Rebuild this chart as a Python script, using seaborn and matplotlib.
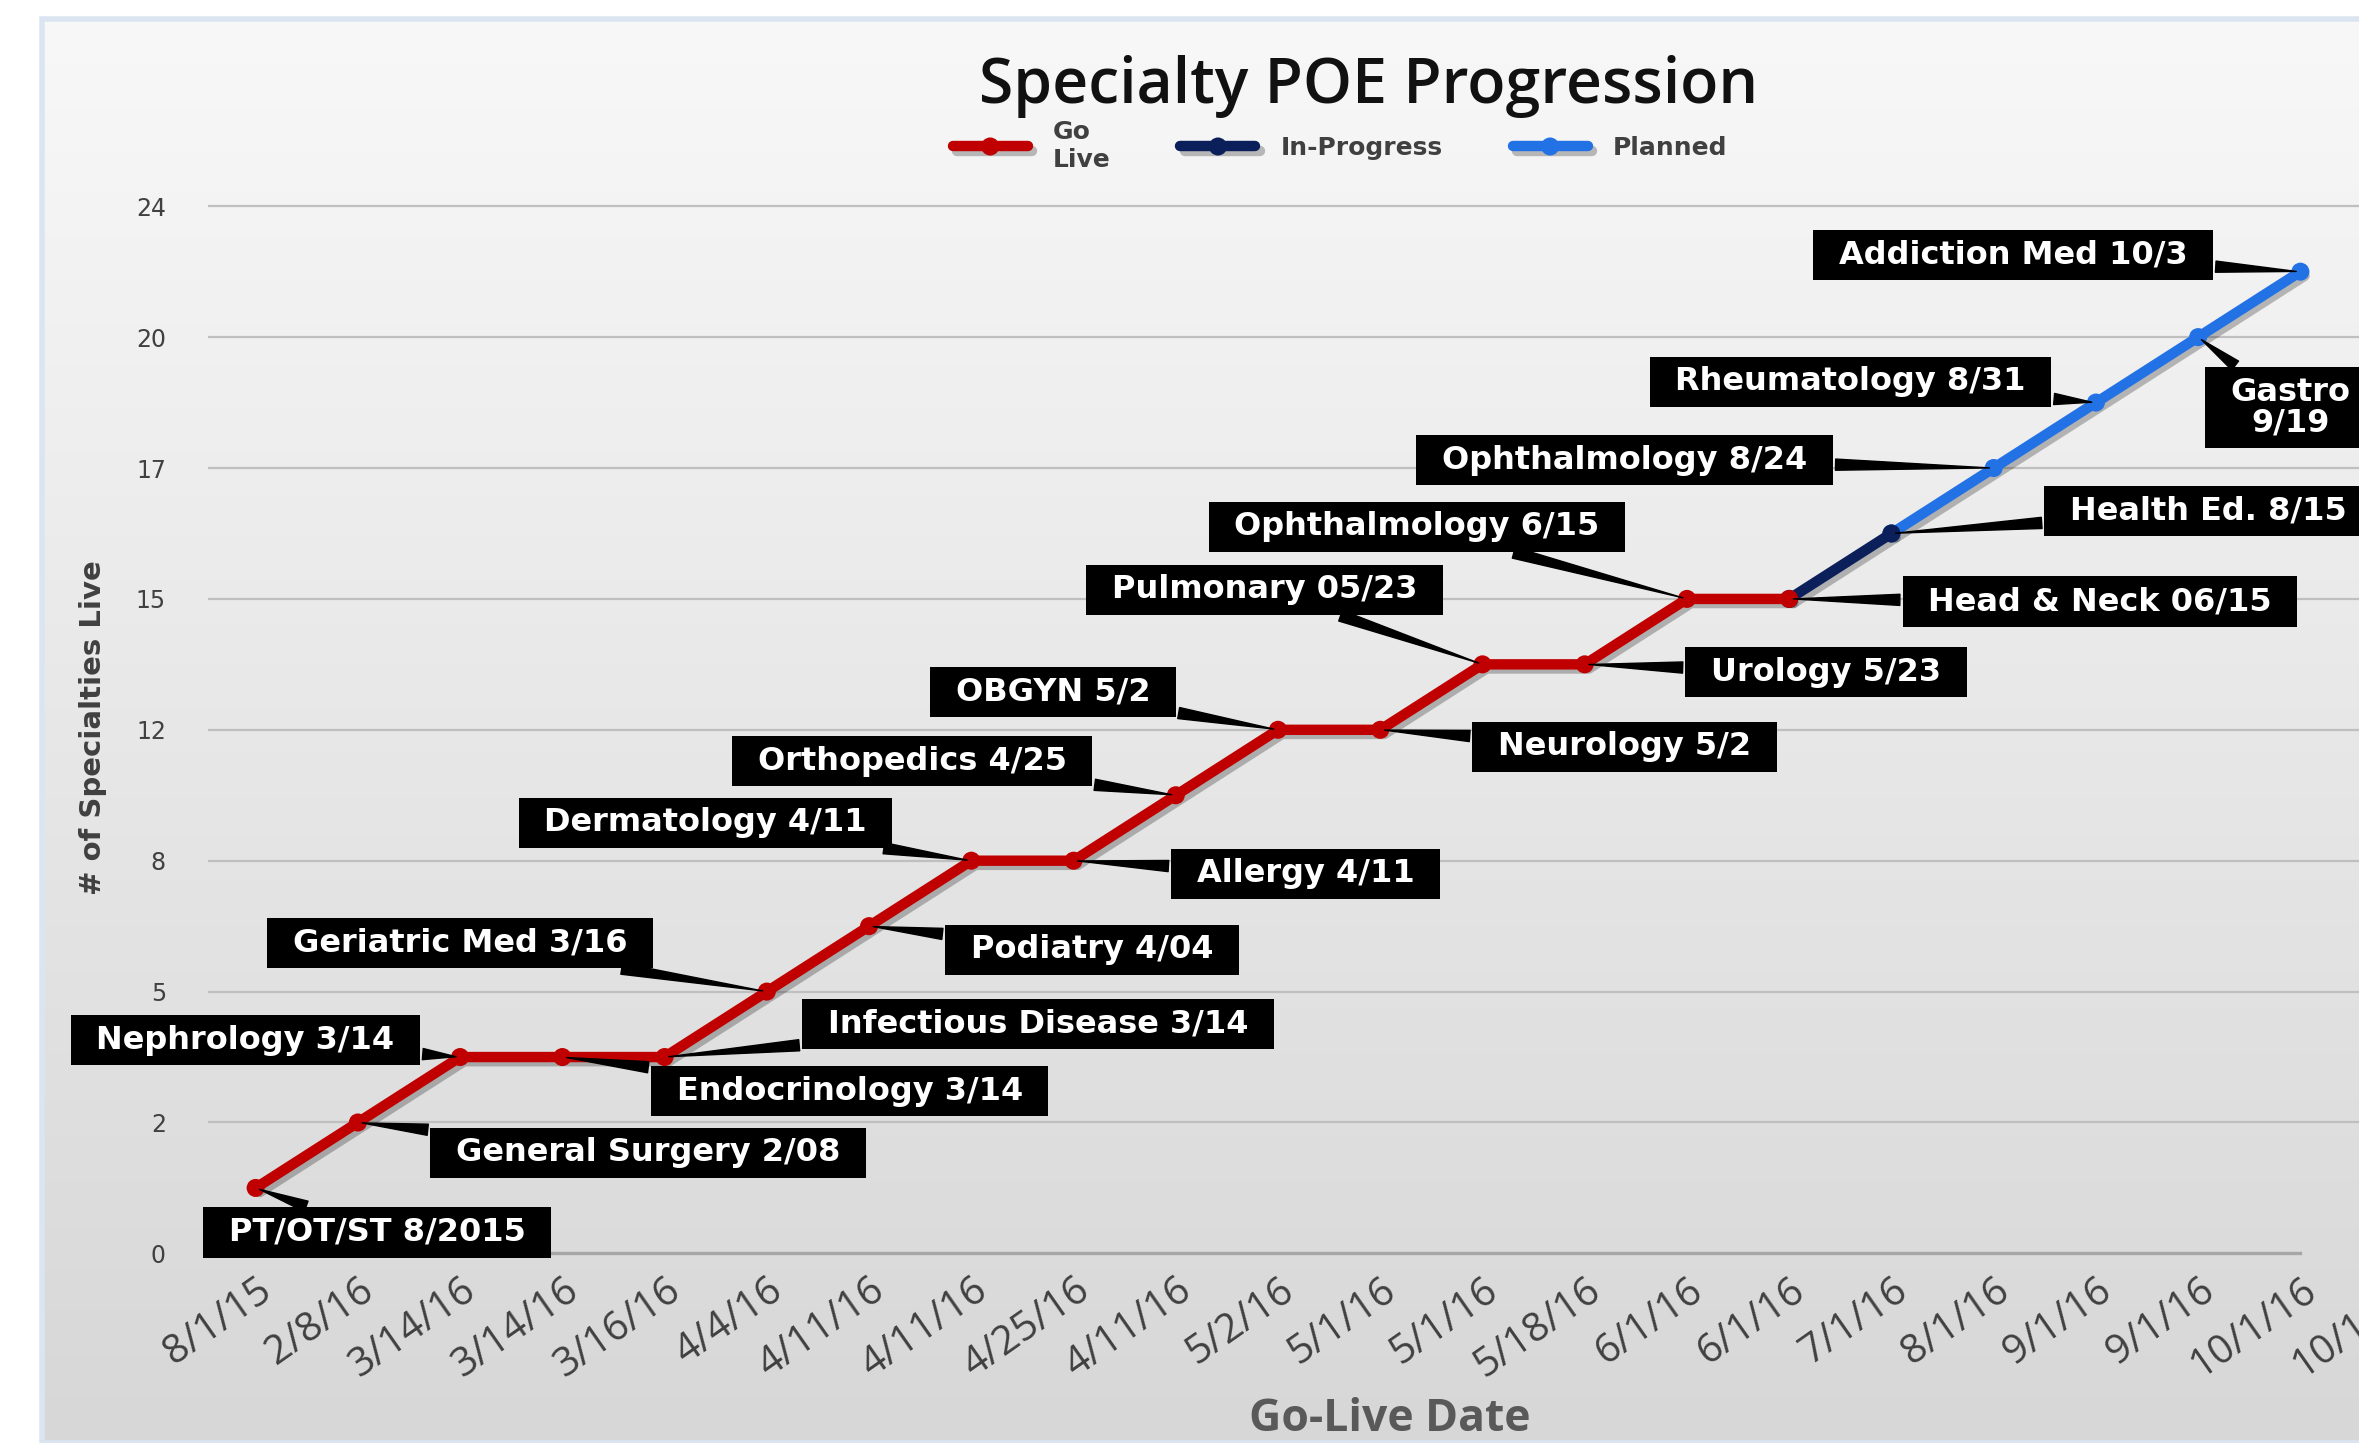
import numpy as np
import pandas as pd
import matplotlib
matplotlib.use("Agg")
import matplotlib.pyplot as plt
import matplotlib.patheffects as pe
from matplotlib.colors import LinearSegmentedColormap
from matplotlib.patches import Rectangle
from matplotlib.path import Path
from matplotlib.transforms import ScaledTranslation
import seaborn as sns

# --- data ---
dates = ["8/1/15", "2/8/16", "3/14/16", "3/14/16", "3/16/16", "4/4/16", "4/11/16",
         "4/11/16", "4/25/16", "4/11/16", "5/2/16", "5/1/16", "5/1/16", "5/18/16",
         "6/1/16", "6/1/16", "7/1/16", "8/1/16", "9/1/16", "9/1/16", "10/1/16", "10/1/16"]
y_tick_labels = ["0", "2", "5", "8", "12", "15", "17", "20", "24"]
# position of each point on the (evenly spaced) y ticks
levels = [0.5, 1, 1.5, 1.5, 1.5, 2, 2.5, 3, 3, 3.5, 4, 4, 4.5, 4.5, 5, 5,
          5.5, 6, 6.5, 7, 7.5]
status = ["Go Live"] * 16 + ["In-Progress"] + ["Planned"] * 4
specialties = ["PT/OT/ST 8/2015", "General Surgery 2/08", "Nephrology 3/14",
               "Endocrinology 3/14", "Infectious Disease 3/14", "Geriatric Med 3/16",
               "Podiatry 4/04", "Dermatology 4/11", "Allergy 4/11", "Orthopedics 4/25",
               "OBGYN 5/2", "Neurology 5/2", "Pulmonary 05/23", "Urology 5/23",
               "Ophthalmology 6/15", "Head & Neck 06/15", "Health Ed. 8/15",
               "Ophthalmology 8/24", "Rheumatology 8/31", "Gastro\n9/19",
               "Addiction Med 10/3"]

# where the callout boxes sit (data units)
label_xy = [(1.19, 0.16), (3.84, 0.77), (-0.10, 1.63), (5.81, 1.24), (7.65, 1.75),
            (2.00, 2.37), (8.18, 2.32), (4.40, 3.29), (10.27, 2.90), (6.42, 3.76),
            (7.80, 4.29), (13.39, 3.87), (9.87, 5.07), (15.36, 4.44), (11.36, 5.55),
            (18.04, 4.98), (19.10, 5.67), (13.39, 6.06), (15.60, 6.66), (19.90, 6.46),
            (17.19, 7.63)]

colors = {"Go Live": "#c00000", "In-Progress": "#0b1f5b", "Planned": "#2272e6"}
legend_names = {"Go Live": "Go\nLive", "In-Progress": "In-Progress", "Planned": "Planned"}

df = pd.DataFrame({"pos": np.arange(len(levels)), "level": levels, "status": status})
i_prog = status.index("In-Progress")
segments = {
    "Planned": df.iloc[i_prog:],
    "In-Progress": df.iloc[i_prog - 1:i_prog + 1],
    "Go Live": df.iloc[:i_prog],
}

sns.set_style("white")

fig = plt.figure(figsize=(23.59, 14.43), dpi=100)

# panel background with soft vertical gradient
bg = fig.add_axes([0.018, 0, 0.982, 0.987], zorder=-10)
grad = np.linspace(0, 1, 256).reshape(-1, 1)
cmap = LinearSegmentedColormap.from_list("bg", ["#f8f8f8", "#d7d7d7"])
bg.imshow(grad, aspect="auto", cmap=cmap, extent=[0, 1, 0, 1], origin="upper")
bg.axis("off")
fig.patches.append(Rectangle((0.018, 0), 0.985, 0.987, transform=fig.transFigure,
                             fill=False, ec="#dbe5f1", lw=4, zorder=-5))

ax = fig.add_axes([0.088, 0.1314, 0.9565, 0.7529])
ax.set_facecolor("none")

for name, seg in segments.items():
    sns.lineplot(data=seg, x="pos", y="level", ax=ax, sort=False, color=colors[name],
                 linewidth=7.5, marker="o", markersize=13, markeredgewidth=0,
                 label=legend_names[name])
for ln in ax.lines:
    ln.set_path_effects([pe.SimpleLineShadow(offset=(3, -3), alpha=0.25), pe.Normal()])


def label_box(x0, y0, width, height, mutation_size):
    px, py = 0.8 * mutation_size, 0.3 * mutation_size
    x0, y0 = x0 - px, y0 - py
    x1, y1 = x0 + width + 2 * px, y0 + height + 2 * py
    return Path([(x0, y0), (x1, y0), (x1, y1), (x0, y1), (x0, y0)], closed=True)


for i, (txt, (bx, by)) in enumerate(zip(specialties, label_xy)):
    ax.annotate(txt, xy=(i, levels[i]), xytext=(bx, by), textcoords="data",
                ha="center", va="center", color="white", fontsize=23,
                fontweight="bold", linespacing=1.0,
                bbox=dict(boxstyle=label_box, fc="black", ec="none"),
                arrowprops=dict(arrowstyle="wedge,tail_width=0.35,shrink_factor=0.5",
                                fc="black", ec="black", shrinkB=3),
                zorder=5)

ax.set_xlim(-0.47, 21.6)
ax.set_ylim(0, 8.3)
ax.set_xticks(range(len(dates)))
ax.set_xticklabels(dates, rotation=35, ha="right", va="center", rotation_mode="anchor",
                   fontsize=29, color="#404040", family="Open Sans")
ax.set_yticks(range(len(y_tick_labels)))
ax.set_yticklabels(y_tick_labels, fontsize=17, color="#404040")
ax.tick_params(axis="x", length=0, pad=24)
ax.tick_params(axis="y", length=0, pad=30)
shift = ScaledTranslation(0.12, 0, fig.dpi_scale_trans)
for lbl in ax.get_xticklabels():
    lbl.set_transform(lbl.get_transform() + shift)

ax.set_xlabel("")
ax.set_ylabel("")
ax.yaxis.grid(True, color="#bfbfbf", lw=1.6)
ax.set_axisbelow(True)
ax.yaxis.get_gridlines()[0].set_visible(False)
for s in ["left", "top", "right"]:
    ax.spines[s].set_visible(False)
ax.spines["bottom"].set_color("#a6a6a6")
ax.spines["bottom"].set_linewidth(2.4)
ax.spines["bottom"].set_bounds(0.1, 20)

handles, labels = ax.get_legend_handles_labels()
order = [labels.index(legend_names[k]) for k in ["Go Live", "In-Progress", "Planned"]]
ax.legend([handles[k] for k in order], [labels[k] for k in order],
          loc="center", bbox_to_anchor=(0.568, 0.899), bbox_transform=fig.transFigure,
          ncol=3, frameon=False, handlelength=3.0, handletextpad=1.0, columnspacing=2.8,
          prop={"size": 18, "weight": "bold"}, labelcolor="#404040")

fig.text(0.580, 0.940, "Specialty POE Progression", ha="center", va="center",
         fontsize=45, family="Open Sans", fontweight="semibold", color="#111111")
fig.text(0.0395, 0.496, "# of Specialties Live", rotation=90, ha="center", va="center",
         fontsize=21, fontweight="bold", color="#404040")
fig.text(0.589, 0.016, "Go-Live Date", ha="center", va="center", fontsize=32,
         fontweight="bold", family="Open Sans", color="#595959")

fig.savefig("out.png", dpi=100)
